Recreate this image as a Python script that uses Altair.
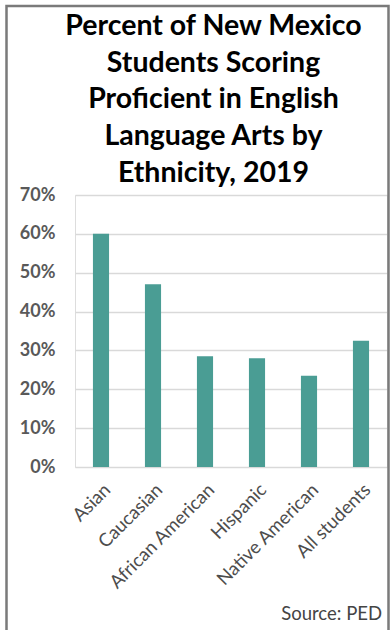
import altair as alt
import pandas as pd

categories = ["Asian", "Caucasian", "African American", "Hispanic", "Native American", "All students"]
values = [0.60, 0.47, 0.285, 0.28, 0.235, 0.325]
y_ticks = [0, 0.1, 0.2, 0.3, 0.4, 0.5, 0.6, 0.7]
title_lines = ["Percent of New Mexico", "Students Scoring", "Proficient in English",
               "Language Arts by", "Ethnicity, 2019"]
source_text = "Source:  PED"

df = pd.DataFrame({"group": categories, "pct": values})

bars = alt.Chart(df).mark_bar(color="#4a9d94").encode(
    x=alt.X("group:N", sort=None, title=None,
            scale=alt.Scale(paddingInner=0.69, paddingOuter=0.345),
            axis=alt.Axis(labelAngle=-45, labelFont="Lato", labelFontSize=18.5,
                          labelColor="#4d4d4d", ticks=False, domain=False,
                          labelPadding=13, grid=False)),
    y=alt.Y("pct:Q", title=None,
            scale=alt.Scale(domain=[0, 0.7], nice=False),
            axis=alt.Axis(values=y_ticks, format=".0%", labelFont="Lato",
                          labelFontSize=18, labelFontWeight="bold", labelColor="#595959",
                          ticks=False, domain=False, labelPadding=20,
                          gridColor="#d9d9d9", gridWidth=1.5)),
)

frame = alt.Chart(pd.DataFrame({"k": [0]})).mark_rect(
    fill="transparent", stroke="#7a7a7a", strokeWidth=2.5, clip=False
).encode(
    x=alt.value(-68.5), x2=alt.value(313.5),
    y=alt.value(-189), y2=alt.value(450),
)

title = alt.Chart(pd.DataFrame({"t": ["\n".join(title_lines)]})).mark_text(
    align="center", baseline="alphabetic", font="Lato", fontSize=28.5,
    fontWeight="bold", color="#000000", lineBreak="\n", lineHeight=36.7, clip=False
).encode(
    text="t:N", x=alt.value(138.5), y=alt.value(-160),
)

source = alt.Chart(pd.DataFrame({"t": [source_text]})).mark_text(
    align="right", baseline="alphabetic", font="Lato", fontSize=18.5,
    color="#444444", clip=False
).encode(
    text="t:N", x=alt.value(307), y=alt.value(425),
)

chart = alt.layer(frame, bars, title, source).properties(
    width=312, height=272,
    autosize=alt.AutoSizeParams(type="none"),
    padding={"left": 75, "top": 195, "right": 5, "bottom": 163},
).configure_view(stroke=None).configure(background="white")

chart.save("out.html", embed_options={"renderer": "svg", "actions": False})
